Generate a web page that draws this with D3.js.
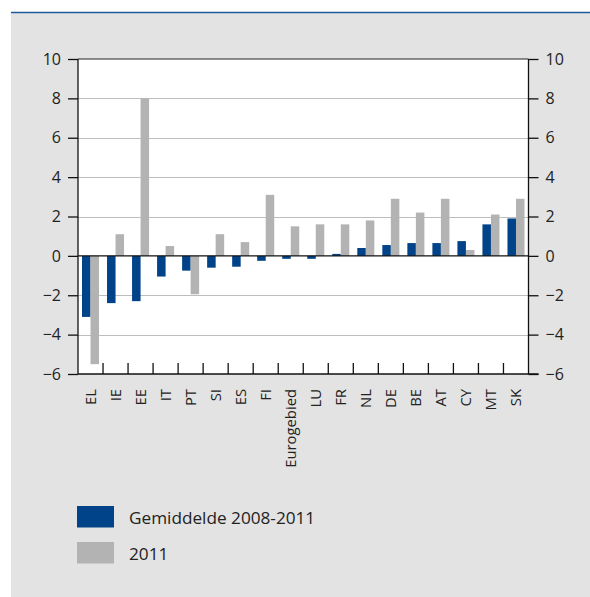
<!DOCTYPE html>
<html><head><meta charset="utf-8">
<script src="https://cdn.jsdelivr.net/npm/d3@7"></script>
<style>
html,body{margin:0;padding:0;background:#fff;}
svg{display:block;font-family:"Open Sans",sans-serif;}
</style></head>
<body><svg id="c" width="590" height="597"></svg>
<script>
const categories = ["EL","IE","EE","IT","PT","SI","ES","FI","Eurogebied","LU","FR","NL","DE","BE","AT","CY","MT","SK"];
const avg2008_2011 = [-3.1,-2.4,-2.3,-1.05,-0.75,-0.6,-0.55,-0.25,-0.15,-0.15,0.1,0.4,0.55,0.65,0.65,0.75,1.6,1.9];
const y2011 = [-5.5,1.1,8.0,0.5,-1.95,1.1,0.7,3.1,1.5,1.6,1.6,1.8,2.9,2.2,2.9,0.3,2.1,2.9];
const yTicks = [-6,-4,-2,0,2,4,6,8,10];
const seriesNames = ["Gemiddelde 2008-2011","2011"];
const colors = ["#004388","#b3b3b3"];

const svg = d3.select("#c");
// panel
svg.append("rect").attr("x",11).attr("y",13).attr("width",579).attr("height",584).attr("fill","#e3e3e3");
svg.append("line").attr("x1",11).attr("x2",590).attr("y1",12.5).attr("y2",12.5).attr("stroke","#1f5b9c").attr("stroke-width",1.5);

const L=78, R=528.5, T=59, B=374;
const x = d3.scaleBand().domain(categories).range([L,R]).padding(0);
const x1 = d3.scaleBand().domain([0,1]).range([4, x.bandwidth()-4]).padding(0);
const y = d3.scaleLinear().domain([-6,10]).range([B,T]);

svg.append("rect").attr("x",L).attr("y",T).attr("width",R-L).attr("height",B-T).attr("fill","#fff");

// gridlines
svg.append("g").selectAll("line").data(yTicks.filter(d=>d!==0 && d!==-6 && d!==10)).join("line")
  .attr("x1",L).attr("x2",R).attr("y1",d=>Math.round(y(d))+0.5).attr("y2",d=>Math.round(y(d))+0.5)
  .attr("stroke","#bdbdbd").attr("stroke-width",1.2);

// bars
const g = svg.append("g");
categories.forEach((c,i)=>{
  [avg2008_2011[i], y2011[i]].forEach((v,s)=>{
    g.append("rect").attr("x",x(c)+x1(s)).attr("width",x1.bandwidth())
      .attr("y",y(Math.max(0,v))).attr("height",Math.abs(y(v)-y(0))).attr("fill",colors[s]);
  });
});

// zero line
svg.append("line").attr("x1",L).attr("x2",R).attr("y1",y(0)).attr("y2",y(0)).attr("stroke","#111").attr("stroke-width",1.3);
// top frame
svg.append("line").attr("x1",L).attr("x2",R).attr("y1",T).attr("y2",T).attr("stroke","#222").attr("stroke-width",1.2);

// axes
const fmt = d=> d<0 ? "\u2212"+Math.abs(d) : String(d);
const la = svg.append("g").attr("transform",`translate(${L},0)`).call(d3.axisLeft(y).tickValues(yTicks).tickFormat(fmt).tickSize(10).tickPadding(7));
const ra = svg.append("g").attr("transform",`translate(${R},0)`).call(d3.axisRight(y).tickValues(yTicks).tickFormat(fmt).tickSize(10).tickPadding(7));
[la,ra].forEach(a=>{
  a.select(".domain").attr("stroke","#111").attr("stroke-width",1.3).attr("d",`M0,${T}V${B}`);
  a.selectAll(".tick line").attr("stroke","#111").attr("stroke-width",1.3);
  a.selectAll("text").attr("font-size",16).attr("fill","#222").attr("font-family","Open Sans");
});

// bottom axis: ticks at band boundaries inward
const bx = svg.append("g").attr("transform",`translate(0,${B})`);
bx.append("line").attr("x1",L).attr("x2",R+10).attr("y1",0).attr("y2",0).attr("stroke","#111").attr("stroke-width",1.3);
bx.selectAll(".bt").data(categories.slice(1)).join("line").attr("class","bt")
  .attr("x1",d=>x(d)).attr("x2",d=>x(d)).attr("y1",0).attr("y2",-11).attr("stroke","#111").attr("stroke-width",1.3);
bx.selectAll("text").data(categories).join("text")
  .attr("transform",d=>`translate(${x(d)+x.bandwidth()/2+5.5},15) rotate(-90)`)
  .attr("text-anchor","end").attr("font-size",14.8).attr("fill","#222").text(d=>d);

// legend
const lg = svg.append("g");
seriesNames.forEach((n,i)=>{
  lg.append("rect").attr("x",77).attr("y",506+i*36).attr("width",37).attr("height",21.5).attr("fill",colors[i]);
  lg.append("text").attr("x",129).attr("y",523.5+i*36).attr("font-size",17.2).attr("fill","#222").text(n);
});
</script></body></html>
